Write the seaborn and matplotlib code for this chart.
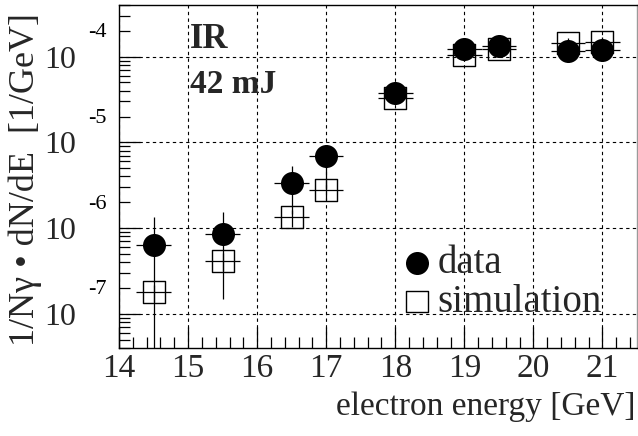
import matplotlib
matplotlib.use("Agg")
import matplotlib.pyplot as plt
import seaborn as sns
from matplotlib.ticker import LogLocator, MultipleLocator, FuncFormatter, NullFormatter

# Photon spectrum per electron energy bin (IR laser, 42 mJ)
energy = [14.5, 15.5, 16.5, 17.0, 18.0, 19.0, 19.5, 20.5, 21.0]
energy_halfwidth = [0.25, 0.25, 0.25, 0.25, 0.25, 0.25, 0.25, 0.25, 0.25]

data_val = [6.3e-7, 8.6e-7, 3.36e-6, 6.85e-6, 3.73e-5, 1.23e-4, 1.32e-4, 1.17e-4, 1.21e-4]
data_err_lo = [7.3e-7, 7.1e-7, 1.9e-6, 4.0e-6, 2.0e-6, 6e-6, 6e-6, 6e-6, 6e-6]
data_err_hi = [7.3e-7, 7.0e-7, 1.9e-6, 1.4e-6, 2.0e-6, 6e-6, 6e-6, 6e-6, 6e-6]

sim_val = [1.78e-7, 4.18e-7, 1.34e-6, 2.81e-6, 3.30e-5, 1.05e-4, 1.22e-4, 1.43e-4, 1.50e-4]
sim_err = [4e-8, 1e-7, 3e-7, 7e-7, 5e-6, 1.5e-5, 1.5e-5, 2e-5, 2e-5]

decades = [-4, -5, -6, -7]
x_ticks = [14, 15, 16, 17, 18, 19, 20, 21]

sns.set_theme(style="ticks")
plt.rcParams["font.family"] = ["Liberation Serif", "DejaVu Serif"]

W, H = 638, 436
fig = plt.figure(figsize=(W / 100, H / 100), dpi=100)
ax = fig.add_axes([119 / W, (H - 348) / H, 518 / W, 343 / H])
ax.set_yscale("log")
ax.set_xlim(14, 21.5)
ax.set_ylim(4e-8, 4e-4)

# grid
ax.grid(True, which="major", color="black", linestyle=(0, (3, 3)), linewidth=0.8)
ax.set_axisbelow(True)

# error bars
ax.errorbar(energy, data_val, xerr=energy_halfwidth, yerr=[data_err_lo, data_err_hi],
            fmt="none", ecolor="black", elinewidth=0.9, capsize=0, zorder=3)
ax.errorbar(energy, sim_val, xerr=energy_halfwidth, yerr=sim_err,
            fmt="none", ecolor="black", elinewidth=0.9, capsize=0, zorder=3)

# markers
sns.scatterplot(x=energy, y=sim_val, marker="s", s=250, color="black",
                edgecolor="black", linewidth=1.0, label="simulation", ax=ax, zorder=4)
ax.collections[-1].set_facecolor("none")
sns.scatterplot(x=energy, y=data_val, marker="o", s=275, color="black",
                edgecolor="black", linewidth=0, label="data", ax=ax, zorder=5)

handles, labels = ax.get_legend_handles_labels()
order = [labels.index("data"), labels.index("simulation")]
ax.legend([handles[i] for i in order], [labels[i] for i in order],
          loc="upper left", bbox_to_anchor=(0.545, 0.301), frameon=False,
          fontsize=28, handlelength=0.8, handletextpad=0.14, labelspacing=0.05,
          borderpad=0, borderaxespad=0)

# axes styling
for side in ["left", "bottom", "top"]:
    ax.spines[side].set_color("black")
    ax.spines[side].set_linewidth(1.0)
ax.spines["right"].set_color("#9a9a9a")
ax.spines["right"].set_linewidth(1.0)

ax.xaxis.set_major_locator(MultipleLocator(1))
ax.xaxis.set_minor_locator(MultipleLocator(0.2))
ax.set_xticks(x_ticks)
ax.set_xticklabels([str(t) for t in x_ticks])

ax.yaxis.set_major_locator(LogLocator(base=10, numticks=10))
ax.yaxis.set_minor_locator(LogLocator(base=10, subs=[2, 3, 4, 5, 6, 7, 8, 9], numticks=20))
ax.yaxis.set_minor_formatter(NullFormatter())
ax.yaxis.set_major_formatter(FuncFormatter(lambda v, p: "10"))

ax.tick_params(which="major", direction="in", length=15, width=0.9, color="black",
               top=False, right=False)
ax.tick_params(which="minor", direction="in", length=8, width=0.9, color="black",
               top=False, right=False)
ax.tick_params(axis="x", which="major", labelsize=24, pad=4)
ax.tick_params(axis="y", which="major", labelsize=23, pad=31)

# exponents of the decade labels
ytrans = ax.get_yaxis_transform()
for d in decades:
    ax.text(-12 / 518, 10.0 ** d * 1.9, str(d), transform=ytrans,
            ha="right", va="center", fontsize=16, color="black")

# annotations
ax.text(0.137, 0.875, "IR", transform=ax.transAxes, fontsize=25,
        fontweight="bold", ha="left", va="baseline")
ax.text(0.137, 0.743, "42 mJ", transform=ax.transAxes, fontsize=24,
        fontweight="bold", ha="left", va="baseline")

fig.text(25 / W, 1 - 180 / H, "1/N\u03b3 \u2022 dN/dE  [1/GeV]", rotation=90,
         ha="center", va="center", fontsize=26)
fig.text(636 / W, 1 - 415 / H, "electron energy [GeV]", ha="right",
         va="baseline", fontsize=24)

fig.savefig("out.png", dpi=100)
